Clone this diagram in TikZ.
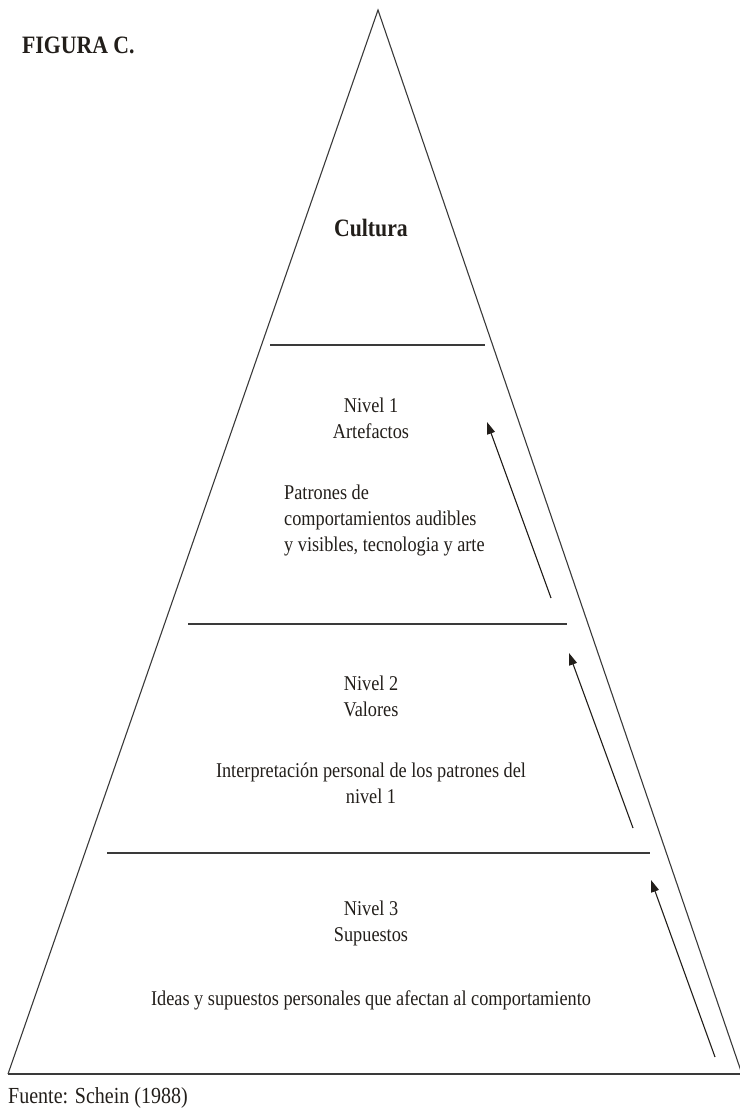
\documentclass[tikz,border=0pt]{standalone}
\usepackage{fontspec}
\setmainfont{Liberation Serif}
\newfontfamily\condfont[FakeStretch=0.87]{Liberation Serif}
\usetikzlibrary{arrows.meta}
\definecolor{ink}{HTML}{221E1A}
\definecolor{linegray}{HTML}{3A3A3A}
\tikzset{
  body/.style={font=\condfont\fontsize{21}{26}\selectfont, text=ink, inner sep=0pt, align=center},
  bodyleft/.style={font=\condfont\fontsize{21}{26}\selectfont, text=ink, inner sep=0pt, align=left, anchor=west},
  titletext/.style={font=\condfont\bfseries\fontsize{25}{30}\selectfont, text=ink, inner sep=0pt},
  side/.style={draw=linegray, line width=1.1pt},
  level/.style={draw=linegray, line width=2pt},
  uparrow/.style={draw=ink, line width=1.1pt, -{Triangle[length=12pt,width=8pt]}}
}
\begin{document}
\begin{tikzpicture}[x=1pt,y=-1pt]
\useasboundingbox (0,0) rectangle (739,1115);
% triangle
\coordinate (apex) at (378,10);
\coordinate (bl) at (8,1074);
\coordinate (br) at (742,1074);
\draw[side] (bl) -- (apex) -- (br);
\draw[level] (bl) -- (br);
% level lines
\coordinate (l1a) at (270,345); \coordinate (l1b) at (485,345);
\coordinate (l2a) at (188,624); \coordinate (l2b) at (567,624);
\coordinate (l3a) at (107,853); \coordinate (l3b) at (650,853);
\draw[level] (l1a) -- (l1b);
\draw[level] (l2a) -- (l2b);
\draw[level] (l3a) -- (l3b);
% arrows
\coordinate (a1s) at (551,598); \coordinate (a1e) at (487,422);
\coordinate (a2s) at (633,828); \coordinate (a2e) at (569,653);
\coordinate (a3s) at (715,1057); \coordinate (a3e) at (651,880);
\draw[uparrow] (a1s) -- (a1e);
\draw[uparrow] (a2s) -- (a2e);
\draw[uparrow] (a3s) -- (a3e);
% texts
\node[titletext, anchor=west] (fig) at (22,45) {FIGURA C.};
\node[titletext] (cult) at (371,228) {Cultura};
\node[body] (n1) at (371,418) {Nivel 1\\Artefactos};
\node[bodyleft] (p1) at (284,520) {Patrones de\\comportamientos audibles\\y visibles, tecnologia y arte};
\node[body] (n2) at (371,696) {Nivel 2\\Valores};
\node[body] (p2) at (371,783) {Interpretación personal de los patrones del\\nivel 1};
\node[body] (n3) at (371,923) {Nivel 3\\Supuestos};
\node[body] (p3) at (371,1000) {Ideas y supuestos personales que afectan al comportamiento};
\node[font=\condfont\fontsize{23}{28}\selectfont, text=ink, inner sep=0pt, anchor=west] (src) at (8,1098) {Fuente: Schein (1988)};
\end{tikzpicture}
\end{document}
